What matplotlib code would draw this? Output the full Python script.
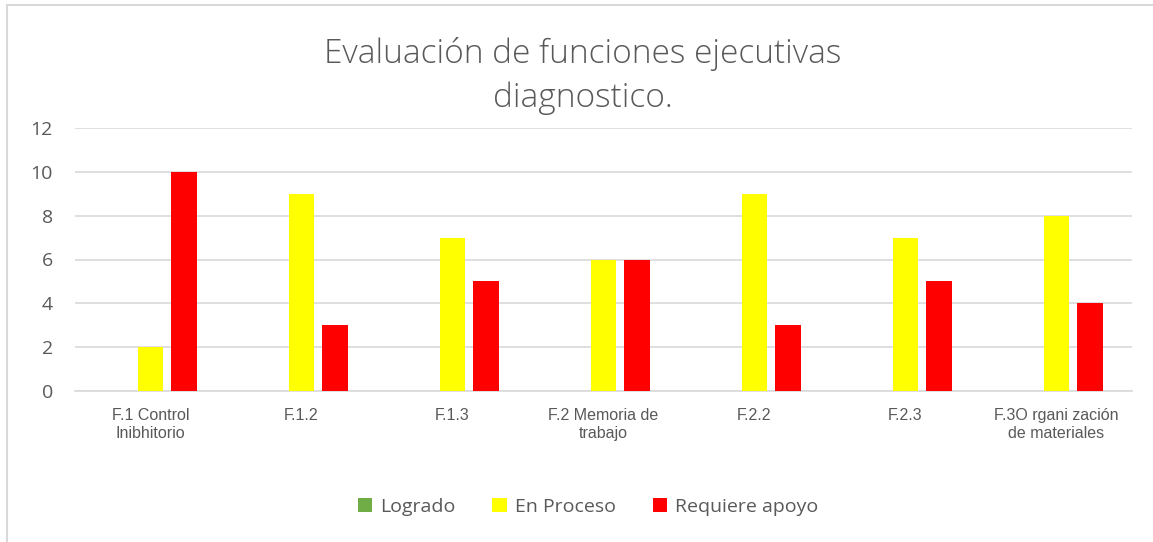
import matplotlib.pyplot as plt
import numpy as np
from matplotlib.patches import Patch, Rectangle

CATEGORIES = [
    "F.1 Control\nInibhitorio",
    "F.1.2",
    "F.1.3",
    "F.2 Memoria de\ntrabajo",
    "F.2.2",
    "F.2.3",
    "F.3O rgani zación\nde materiales",
]
LOGRADO = [0, 0, 0, 0, 0, 0, 0]
EN_PROCESO = [2, 9, 7, 6, 9, 7, 8]
REQUIERE_APOYO = [10, 3, 5, 6, 3, 5, 4]

SERIES_NAMES = ["Logrado", "En Proceso", "Requiere apoyo"]
COLORS = ["#70AD47", "#FFFF00", "#FF0000"]
TEXT_COLOR = "#595959"
GRID_COLOR = "#D9D9D9"

W, H = 1153, 542

fig = plt.figure(figsize=(W / 100, H / 100), dpi=100)
fig.patch.set_facecolor("white")

# chart frame, runs off the right and bottom of the image
fig.patches.append(
    Rectangle((7 / W, -0.05), 1.2, 1 - 5 / H + 0.05, transform=fig.transFigure,
              fill=False, edgecolor=GRID_COLOR, linewidth=1.5)
)

ax = fig.add_axes([75 / W, 1 - 391 / H, (1132 - 75) / W, (391 - 128) / H])

x = np.arange(len(CATEGORIES))
width = 0.172
offset = 0.225
for i, (vals, color) in enumerate(zip([LOGRADO, EN_PROCESO, REQUIERE_APOYO], COLORS)):
    ax.bar(x + (i - 1) * offset, vals, width=width, color=color, zorder=3)

ax.set_xlim(-0.5, len(CATEGORIES) - 0.5)
ax.set_ylim(0, 12)
ax.set_yticks(range(0, 13, 2))
ax.yaxis.grid(True, color=GRID_COLOR, linewidth=1.2, zorder=0)
ax.set_axisbelow(True)
for side in ["top", "right", "left"]:
    ax.spines[side].set_visible(False)
ax.spines["bottom"].set_color(GRID_COLOR)
ax.spines["bottom"].set_linewidth(1.2)
ax.tick_params(axis="both", length=0)
ax.tick_params(axis="y", pad=16, labelsize=14, labelcolor=TEXT_COLOR)
for lbl in ax.get_yticklabels():
    lbl.set_family("Open Sans")

ax.set_xticks(x)
ax.set_xticklabels(CATEGORIES, fontsize=11.5, color=TEXT_COLOR, family="Liberation Sans",
                   linespacing=1.3)
ax.tick_params(axis="x", pad=12)

fig.text(583 / W, 1 - 76 / H, "Evaluación de funciones ejecutivas\ndiagnostico.",
         ha="center", va="center", fontsize=24, color=TEXT_COLOR, family="Open Sans",
         linespacing=1.45, fontweight="light")

handles = [Patch(facecolor=c, label=n) for c, n in zip(COLORS, SERIES_NAMES)]
fig.legend(handles=handles, loc="center", bbox_to_anchor=(588 / W, 1 - 507 / H), ncol=3,
           frameon=False, handlelength=0.75, handleheight=0.75, handletextpad=0.4,
           columnspacing=1.9, prop={"family": "Open Sans", "size": 14},
           labelcolor=TEXT_COLOR)

fig.savefig("out.png", dpi=100)
